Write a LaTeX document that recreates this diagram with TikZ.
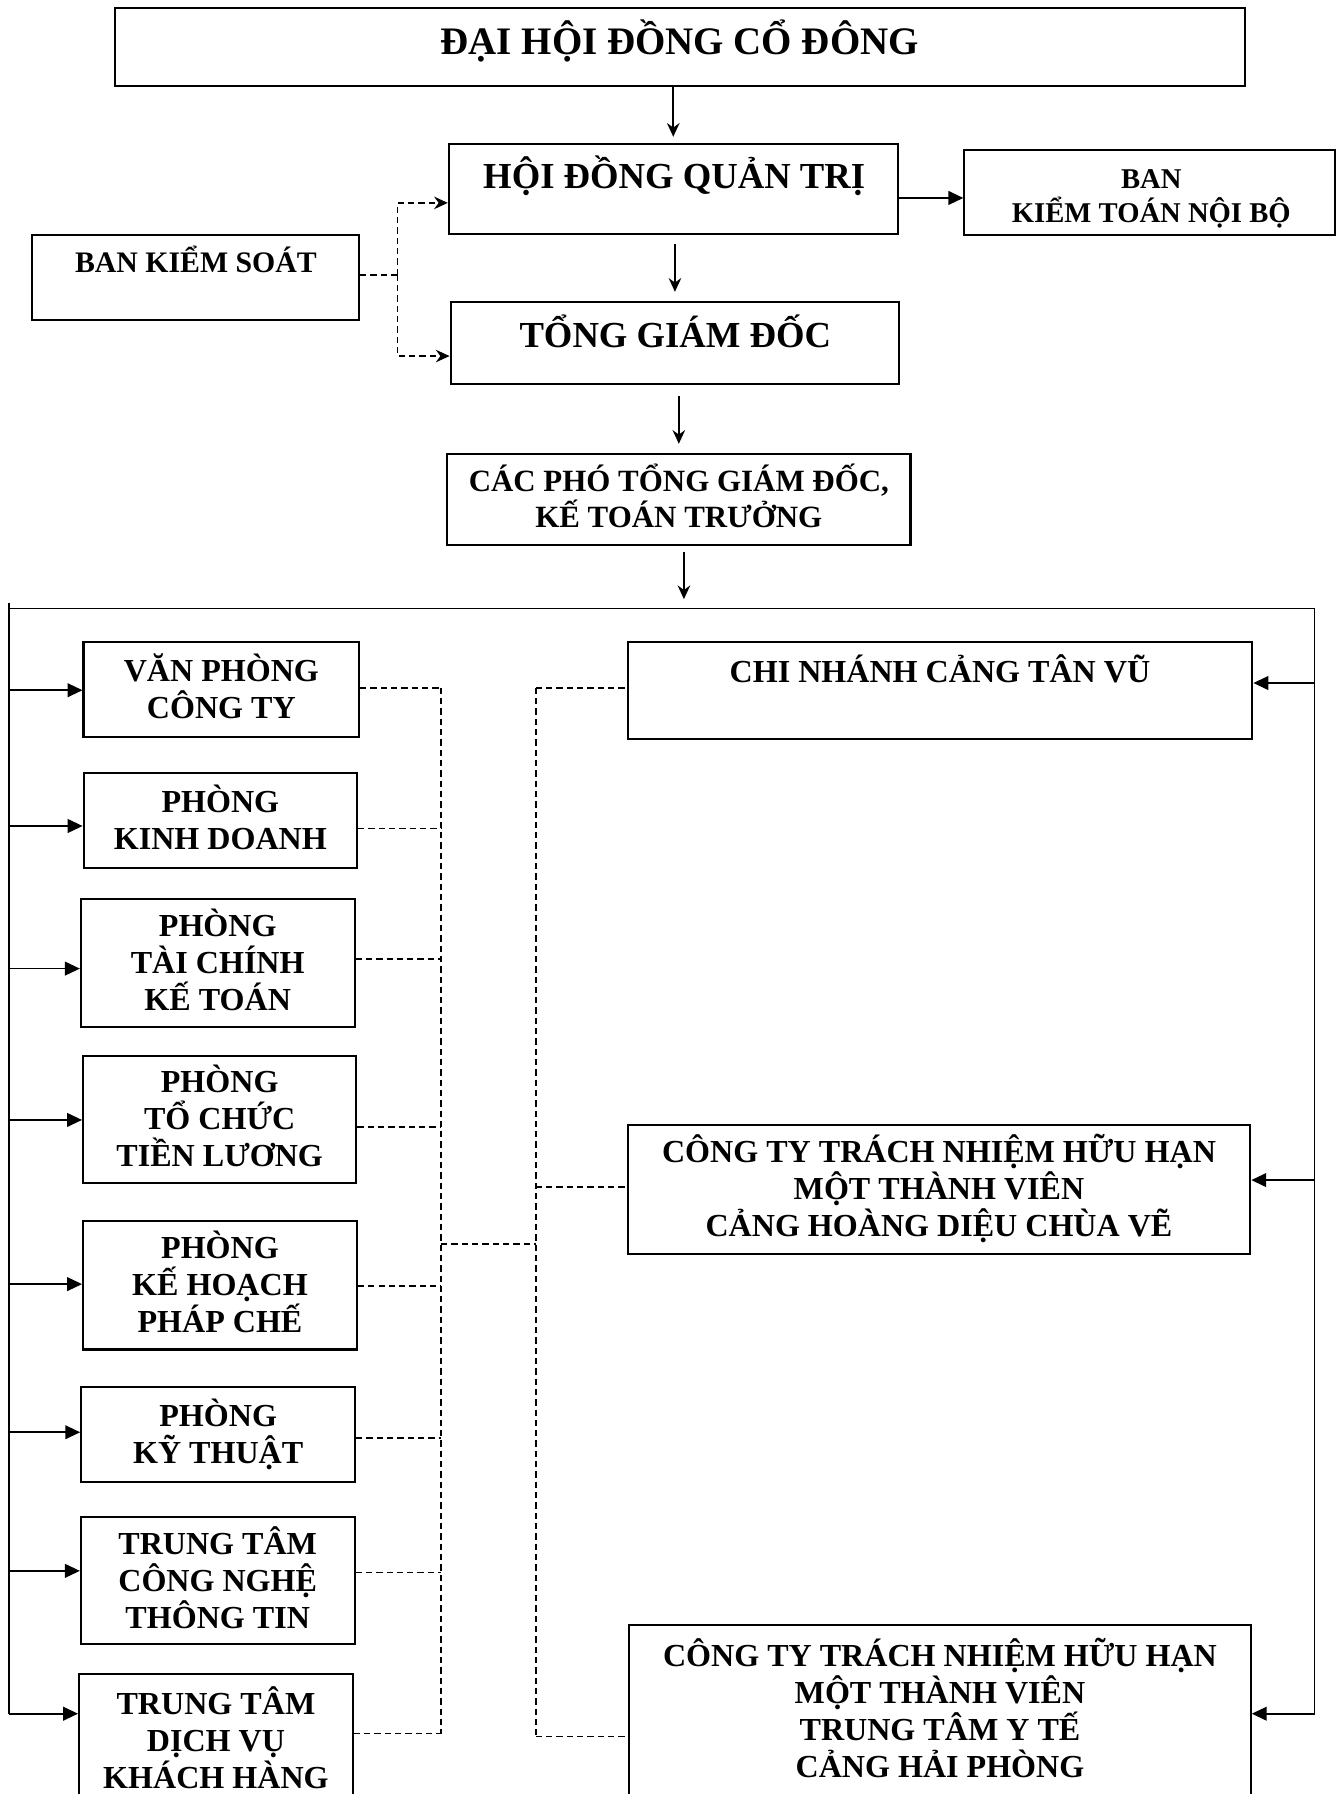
\documentclass[tikz,border=0pt]{standalone}
\usepackage{fontspec}
\setmainfont{Liberation Serif}
\usetikzlibrary{arrows.meta}
\newcommand\ts[1]{\rule{0pt}{1em}#1\rule[-0.345em]{0pt}{0.345em}}
\tikzset{
  bx/.style={draw, line width=1.8pt, inner sep=0pt, align=center, font=\bfseries\fontsize{28}{32.3}\selectfont},
  tx/.style={inner sep=0pt, align=center},
  ln/.style={line width=1.4pt},
  dsh/.style={line width=1.3pt, dash pattern=on 5.5pt off 3.5pt},
  arrT/.style={ln, -{Triangle[length=13pt,width=12pt]}},
  arrS/.style={ln, -{Stealth[length=12pt,width=11pt,inset=4pt]}},
  darr/.style={dsh, -{Stealth[length=12pt,width=11pt,inset=4pt]}},
}
\begin{document}
\begin{tikzpicture}[x=1pt,y=-1pt]
\useasboundingbox (0,0) rectangle (1170,1566);
% top boxes
\node[bx, minimum width=985.9pt, minimum height=68.1pt] (title) at (593.65,40.75) {};
\node[tx, font=\bfseries\fontsize{34}{40}\selectfont] (title-t) at (593.3,36.4) {\ts{ĐẠI HỘI ĐỒNG CỔ ĐÔNG}};
\node[bx, minimum width=391.8pt, minimum height=78.2pt] (hdqt) at (587.7,165.1) {};
\node[tx, font=\bfseries\fontsize{32}{38}\selectfont] (hdqt-t) at (588.5,154.4) {\ts{HỘI ĐỒNG QUẢN TRỊ}};
\node[bx, minimum width=323.9pt, minimum height=73.9pt] (ktnb) at (1003.75,168.25) {};
\node[tx, font=\bfseries\fontsize{25}{29.4}\selectfont] (ktnb-t) at (1005,171.1) {\ts{BAN\\KIỂM TOÁN NỘI BỘ}};
\node[bx, minimum width=285.8pt, minimum height=73.8pt] (bks) at (170.5,242.1) {};
\node[tx, font=\bfseries\fontsize{26}{30}\selectfont] (bks-t) at (171,229.2) {\ts{BAN KIỂM SOÁT}};
\node[bx, minimum width=391.7pt, minimum height=70.8pt] (tgd) at (589.15,299.4) {};
\node[tx, font=\bfseries\fontsize{32}{38}\selectfont] (tgd-t) at (589.5,293) {\ts{TỔNG GIÁM ĐỐC}};
\node[bx, minimum width=404.5pt, minimum height=79.5pt, font=\bfseries\fontsize{27}{31.7}\selectfont] (cacpho) at (592.55,435.75) {\ts{CÁC PHÓ TỔNG GIÁM ĐỐC,\\KẾ TOÁN TRƯỞNG}};
% left boxes
\node[bx, minimum width=240.6pt, minimum height=83.5pt] (vp) at (193.2,601.75) {\ts{VĂN PHÒNG\\CÔNG TY}};
\node[bx, minimum width=238.7pt, minimum height=83pt] (kd) at (192.35,716.5) {\ts{PHÒNG\\KINH DOANH}};
\node[bx, minimum width=238.9pt, minimum height=111.8pt] (tc) at (190.05,840.6) {\ts{PHÒNG\\TÀI CHÍNH\\KẾ TOÁN}};
\node[bx, minimum width=238.5pt, minimum height=111.6pt] (tctl) at (191.75,977.2) {\ts{PHÒNG\\TỔ CHỨC\\TIỀN LƯƠNG}};
\node[bx, minimum width=239pt, minimum height=111.8pt] (kh) at (192,1122.1) {\ts{PHÒNG\\KẾ HOẠCH\\PHÁP CHẾ}};
\node[bx, minimum width=239.1pt, minimum height=83.2pt] (kt) at (190.45,1252) {\ts{PHÒNG\\KỸ THUẬT}};
\node[bx, minimum width=238.9pt, minimum height=111.1pt] (cntt) at (190.05,1379.85) {\ts{TRUNG TÂM\\CÔNG NGHỆ\\THÔNG TIN}};
\node[bx, minimum width=239pt, minimum height=116.8pt] (dv) at (188.5,1520) {\ts{TRUNG TÂM\\DỊCH VỤ\\KHÁCH HÀNG}};
% right boxes
\node[bx, minimum width=545.3pt, minimum height=85.3pt] (cn) at (820.55,602.65) {};
\node[tx, font=\bfseries\fontsize{28}{32.3}\selectfont] (cn-t) at (820.5,586.5) {\ts{CHI NHÁNH CẢNG TÂN VŨ}};
\node[bx, minimum width=543.5pt, minimum height=112.8pt] (hd) at (819.65,1038.2) {\ts{CÔNG TY TRÁCH NHIỆM HỮU HẠN\\MỘT THÀNH VIÊN\\CẢNG HOÀNG DIỆU CHÙA VẼ}};
\node[bx, minimum width=542.6pt, minimum height=151.4pt] (yt) at (820.5,1494) {\ts{CÔNG TY TRÁCH NHIỆM HỮU HẠN\\MỘT THÀNH VIÊN\\TRUNG TÂM Y TẾ\\CẢNG HẢI PHÒNG}};
% top chain arrows
\draw[arrS, shorten >=5.7pt] (title.south -| hdqt.north) -- (hdqt.north);
\draw[arrS, shorten <=8.3pt, shorten >=8.4pt] (hdqt.south -| tgd.north) -- (tgd.north);
\draw[arrS, shorten <=10.1pt, shorten >=7.7pt] (tgd.south -| cacpho.north) -- (cacpho.north);
\coordinate (busin) at (597,531.3);
\draw[arrS, shorten <=5.5pt, shorten >=8.3pt] (cacpho.south -| busin) -- (busin);
\draw[arrT] ([yshift=-7.7pt]hdqt.east) -- ([yshift=-7.7pt]hdqt.east -| ktnb.west);
% ban kiem soat
\coordinate (ksj) at (347,239.9);
\draw[dsh] (bks.east |- ksj) -- (ksj);
\draw[darr] (ksj) |- ([yshift=-12pt]hdqt.west);
\draw[darr] (ksj) |- ([yshift=-11.4pt]tgd.west);
% bus
\coordinate (bltop) at (7.8,526);
\coordinate (blbot) at (7.8,1495.9);
\coordinate (bl) at (7.8,531.3);
\coordinate (br) at (1147.5,531.3);
\coordinate (brbot) at (1147.5,1495.9);
\draw[ln] (bltop) -- (blbot);
\draw[ln] (bl) -- (br) -- (brbot);
\foreach \n/\y in {vp/602.5, kd/721, tc/845.5, tctl/977.6, kh/1120.9, kt/1250.2, cntt/1371.2, dv/1495.9}{
  \coordinate (L-\n) at (7.8,\y);
  \draw[arrT] (L-\n) -- (\n.west |- L-\n);
}
\foreach \n/\y in {cn/596.2, hd/1030.1, yt/1495.9}{
  \coordinate (A-\n) at (1147.5,\y);
  \draw[arrT] (A-\n) -- (\n.east |- A-\n);
}
% dashed links
\foreach \n/\y in {vp/600.4, kd/723.2, tc/837.2, tctl/983.6, kh/1122.6, kt/1255.2, cntt/1372.5, dv/1513.3}{
  \coordinate (D-\n) at (385,\y);
  \draw[dsh] (\n.east |- D-\n) -- (D-\n);
}
\draw[dsh] (D-vp) -- (D-dv);
\coordinate (mL) at (385,1085.7);
\coordinate (mR) at (467.7,1085.7);
\draw[dsh] (mL) -- (mR);
\foreach \n/\y in {cn/600.4, hd/1036.1, yt/1515.8}{
  \coordinate (R-\n) at (467.7,\y);
  \draw[dsh] (R-\n) -- (\n.west |- R-\n);
}
\draw[dsh] (R-cn) -- (R-yt);
\end{tikzpicture}
\end{document}
